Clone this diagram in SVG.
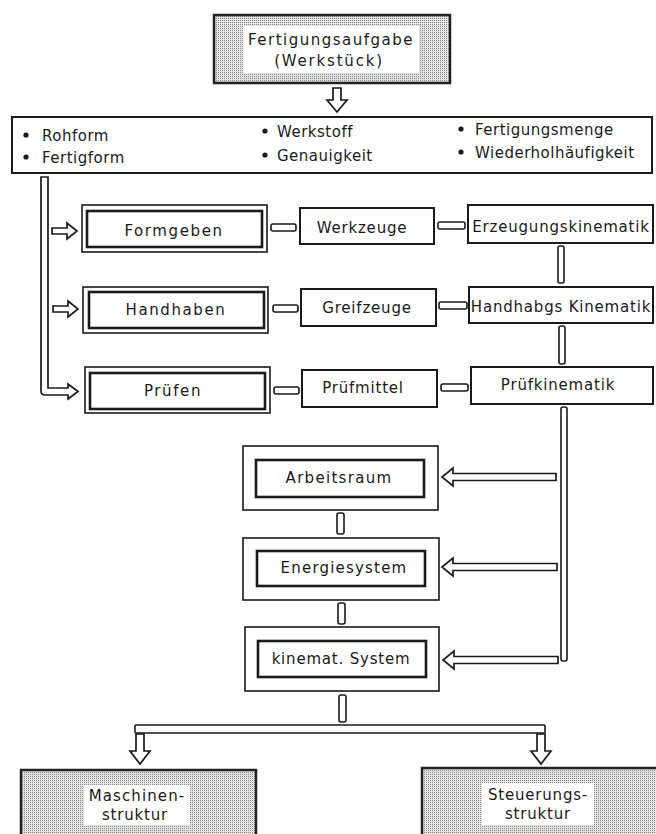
<svg xmlns="http://www.w3.org/2000/svg" width="656" height="834" viewBox="0 0 656 834">
<defs>
<pattern id="stip" width="2" height="2" patternUnits="userSpaceOnUse">
<rect width="2" height="2" fill="#e2e2e2"/>
<rect width="1" height="1" fill="#8c8c8c"/>
</pattern>
<style>
.t{font-family:"DejaVu Sans","Liberation Sans",sans-serif;font-size:15px;fill:#1a1a1a;letter-spacing:0.8px;text-anchor:middle}
.w{letter-spacing:1.6px}
.tl{font-family:"DejaVu Sans","Liberation Sans",sans-serif;font-size:15px;fill:#1a1a1a;letter-spacing:0.5px}
.box{fill:#fff;stroke:#1a1a1a;stroke-width:2}
.outer{fill:#fff;stroke:#1a1a1a;stroke-width:1.6}
.inner{fill:#fff;stroke:#1a1a1a;stroke-width:2.6}
.gray{fill:url(#stip);stroke:#222;stroke-width:2.5}
.conn{fill:#fff;stroke:#1a1a1a;stroke-width:1.6}
.arr{fill:#fff;stroke:#1a1a1a;stroke-width:1.7;stroke-linejoin:miter}
</style>
</defs>
<rect width="656" height="834" fill="#fff"/>

<g id="connectors">
<polygon class="arr" points="333,88 341,88 341,100 347,100 337,112 327,100 333,100"/>
<path class="arr" d="M41,177 L41,391 Q41,395 45,395 L68,395 L68,399 L78,391.5 L68,384 L68,388 L48,388 L48,177 Z"/>
<polygon class="arr" points="52,228 67,228 67,223 77,231 67,239 67,234 52,234"/>
<polygon class="arr" points="53,306 68,306 68,301 78,309 68,317 68,312 53,312"/>
<rect class="conn" x="271" y="224" width="25" height="7" rx="2"/>
<rect class="conn" x="273" y="305" width="25" height="7" rx="2"/>
<rect class="conn" x="274" y="387" width="25" height="7" rx="2"/>
<rect class="conn" x="438" y="222" width="27" height="7" rx="2"/>
<rect class="conn" x="439" y="302" width="28" height="7" rx="2"/>
<rect class="conn" x="441" y="384" width="27" height="7" rx="2"/>
<rect class="conn" x="558" y="246" width="6" height="37" rx="2"/>
<rect class="conn" x="559" y="326" width="6" height="38" rx="2"/>
<rect class="conn" x="561" y="407" width="6" height="254" rx="2"/>
<polygon class="arr" points="556,473.5 453,473.5 453,468 442,477 453,486 453,480.5 556,480.5"/>
<polygon class="arr" points="557,563.5 453,563.5 453,558 442,567 453,576 453,570.5 557,570.5"/>
<polygon class="arr" points="558,656.5 454,656.5 454,651 443,660 454,669 454,663.5 558,663.5"/>
<rect class="conn" x="337" y="513" width="7" height="21" rx="2"/>
<rect class="conn" x="338" y="603" width="7" height="21" rx="2"/>
<rect class="conn" x="339" y="695" width="7" height="27" rx="2"/>
<rect class="conn" x="135" y="725" width="410" height="8" rx="1"/>
<polygon class="arr" points="136,734 144,734 144,751 150,751 140,764 130,751 136,751"/>
<polygon class="arr" points="537,734 545,734 545,751 551,751 541,764 531,751 537,751"/>
</g>

<g id="fertigungsaufgabe">
<rect class="gray" x="214" y="15" width="236" height="68"/>
<rect x="243" y="26" width="176" height="47" fill="#fff"/>
<text class="t" x="331" y="45" style="letter-spacing:1.5px">Fertigungsaufgabe</text>
<text class="t" x="329" y="66" style="letter-spacing:1.8px">(Werkstück)</text>
</g>

<g id="merkmale">
<rect class="box" x="12" y="117" width="640" height="56"/>
<circle cx="26" cy="135" r="2.6" fill="#1a1a1a"/>
<circle cx="26" cy="157" r="2.6" fill="#1a1a1a"/>
<circle cx="265" cy="131" r="2.6" fill="#1a1a1a"/>
<circle cx="265" cy="155" r="2.6" fill="#1a1a1a"/>
<circle cx="461" cy="129" r="2.6" fill="#1a1a1a"/>
<circle cx="461" cy="152" r="2.6" fill="#1a1a1a"/>
<text class="tl" x="42" y="141">Rohform</text>
<text class="tl" x="42" y="163">Fertigform</text>
<text class="tl" x="277" y="137">Werkstoff</text>
<text class="tl" x="277" y="161">Genauigkeit</text>
<text class="tl" x="475" y="135">Fertigungsmenge</text>
<text class="tl" x="475" y="158">Wiederholhäufigkeit</text>
</g>

<g id="formgeben">
<rect class="outer" x="82" y="205" width="185" height="47"/>
<rect class="inner" x="87" y="211" width="175" height="36"/>
<text class="t w" x="174" y="236">Formgeben</text>
</g>
<g id="handhaben">
<rect class="outer" x="83" y="287" width="185" height="46"/>
<rect class="inner" x="89" y="292" width="175" height="36"/>
<text class="t w" x="176" y="315">Handhaben</text>
</g>
<g id="pruefen">
<rect class="outer" x="85" y="367" width="185" height="46"/>
<rect class="inner" x="90" y="373" width="175" height="36"/>
<text class="t w" x="173" y="396">Prüfen</text>
</g>

<g id="werkzeuge">
<rect class="box" x="300" y="208" width="134" height="36"/>
<text class="t" x="362" y="233">Werkzeuge</text>
</g>
<g id="greifzeuge">
<rect class="box" x="301" y="289" width="135" height="37"/>
<text class="t" x="367" y="313">Greifzeuge</text>
</g>
<g id="pruefmittel">
<rect class="box" x="302" y="370" width="135" height="37"/>
<text class="t" x="363" y="393">Prüfmittel</text>
</g>

<g id="erzeugungskinematik">
<rect class="box" x="468" y="205" width="185" height="38"/>
<text class="t" x="561" y="232">Erzeugungskinematik</text>
</g>
<g id="handhabgskinematik">
<rect class="box" x="469" y="287" width="184" height="36"/>
<text class="t" x="561" y="312">Handhabgs Kinematik</text>
</g>
<g id="pruefkinematik">
<rect class="box" x="471" y="367" width="182" height="37"/>
<text class="t" x="558" y="390">Prüfkinematik</text>
</g>

<g id="arbeitsraum">
<rect class="outer" x="243" y="446" width="195" height="64"/>
<rect class="inner" x="256" y="460" width="168" height="37"/>
<text class="t" x="339" y="483" style="letter-spacing:1.3px">Arbeitsraum</text>
</g>
<g id="energiesystem">
<rect class="outer" x="243" y="538" width="196" height="62"/>
<rect class="inner" x="257" y="551" width="168" height="35"/>
<text class="t" x="344" y="573" style="letter-spacing:1.2px">Energiesystem</text>
</g>
<g id="kinematsystem">
<rect class="outer" x="245" y="627" width="194" height="64"/>
<rect class="inner" x="258" y="641" width="168" height="36"/>
<text class="t" x="341" y="664">kinemat. System</text>
</g>

<g id="maschinenstruktur">
<rect class="gray" x="21" y="770" width="235" height="70"/>
<rect x="84" y="785" width="106" height="40" fill="#fff"/>
<text class="t" x="137" y="801" style="letter-spacing:1.1px">Maschinen-</text>
<text class="t" x="135" y="820">struktur</text>
</g>
<g id="steuerungsstruktur">
<rect class="gray" x="422" y="768" width="240" height="72"/>
<rect x="482" y="783" width="112" height="42" fill="#fff"/>
<text class="t" x="538" y="800">Steuerungs-</text>
<text class="t" x="538" y="819">struktur</text>
</g>
</svg>
